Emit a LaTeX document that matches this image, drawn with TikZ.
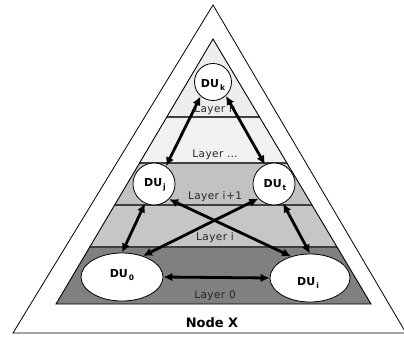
\documentclass[tikz,border=0pt]{standalone}
\usepackage{fontspec}
\setmainfont{DejaVu Sans}
\newfontfamily\layerfont[LetterSpace=4]{DejaVu Sans}
\usetikzlibrary{arrows.meta,shapes.geometric}

\definecolor{layerTop}{HTML}{EEEEEE}
\definecolor{layerDots}{HTML}{F1F1F1}
\definecolor{layerUp}{HTML}{C2C2C2}
\definecolor{layerMid}{HTML}{C6C6C6}
\definecolor{layerBase}{HTML}{808080}
\definecolor{sepline}{HTML}{404040}

% unit label: bold "DU" with a lowered small index
\newcommand\unitname[1]{\textbf{DU}\kern1pt\raisebox{-3.2pt}{\fontsize{7.5}{8}\selectfont\bfseries #1}}

\tikzset{
  unit/.style={circle, draw=black, line width=0.8pt, fill=white, inner sep=0pt},
  baseunit/.style={ellipse, draw=black, line width=0.8pt, fill=white, inner sep=0pt,
                   minimum width=82pt, minimum height=48pt},
  unittext/.style={inner sep=0pt, font=\fontsize{11}{13}\selectfont},
  layertext/.style={inner sep=0pt, text=black!85, font=\layerfont\fontsize{10.5}{12}\selectfont},
  sep/.style={draw=sepline, line width=1.3pt},
  link/.style={line width=2.8pt,
               {Latex[length=9pt,width=8.5pt]}-{Latex[length=9pt,width=8.5pt]}},
}

\begin{document}
\begin{tikzpicture}[x=1pt,y=-1pt]
\useasboundingbox (0,0) rectangle (404,337);

% outer frame of the node
\draw[line width=0.8pt] (213,5) -- (13,333) -- (406,333) -- cycle;

% layered pyramid
\coordinate (apex) at (213,39);
\coordinate (bleft) at (56,304);
\coordinate (bright) at (371,304);
\begin{scope}
  \clip (apex) -- (bleft) -- (bright) -- cycle;
  \fill[layerTop]  (0,0)   rectangle (404,117);
  \fill[layerDots] (0,117) rectangle (404,163);
  \fill[layerUp]   (0,163) rectangle (404,205);
  \fill[layerMid]  (0,205) rectangle (404,247);
  \fill[layerBase] (0,247) rectangle (404,310);
  \draw[sep] (0,117) -- (404,117);
  \draw[sep] (0,163) -- (404,163);
  \draw[sep] (0,205) -- (404,205);
  \draw[sep] (0,247) -- (404,247);
\end{scope}
\draw[line width=0.9pt] (apex) -- (bleft) -- (bright) -- cycle;

% layer names
\node[layertext] (ln)  at (215,110) {Layer n};
\node[layertext] (ld)  at (215,155) {Layer \dots};
\node[layertext] (li1) at (215,197) {Layer i+1};
\node[layertext] (li)  at (215,238) {Layer i};
\node[layertext] (l0)  at (215,296) {Layer 0};

\node[inner sep=0pt, font=\fontsize{13}{15}\selectfont\bfseries] (nodex) at (212,323) {Node X};

% distributed units
\node[unit, minimum size=37pt] (duk) at (213,82) {};
\node[unit, minimum size=42pt] (duj) at (154,184) {};
\node[unit, minimum size=42pt] (dut) at (274,184) {};
\node[baseunit] (du0) at (122,277) {};
\node[baseunit, minimum width=80pt] (dui) at (310,278) {};

\node[unittext] (tk) at (213,85) {\unitname{k}};
\node[unittext] (tj) at (155,185) {\unitname{j}};
\node[unittext] (tt) at (275,185) {\unitname{t}};
\node[unittext] (t0) at (122,275) {\unitname{0}};
\node[unittext] (ti) at (308,283) {\unitname{i}};

% links between units
\draw[link] (duk.229) -- (duj.56);
\draw[link] (duk.313) -- (dut.115);
\draw[link] (duj.245) -- (du0.90);
\draw[link] (dut.295) -- (dui.90);
\draw[link] (duj.315) -- (dui.131);
\draw[link] (dut.223) -- (du0.45);
\draw[link] (du0.east) -- (dui.west);
\end{tikzpicture}
\end{document}
